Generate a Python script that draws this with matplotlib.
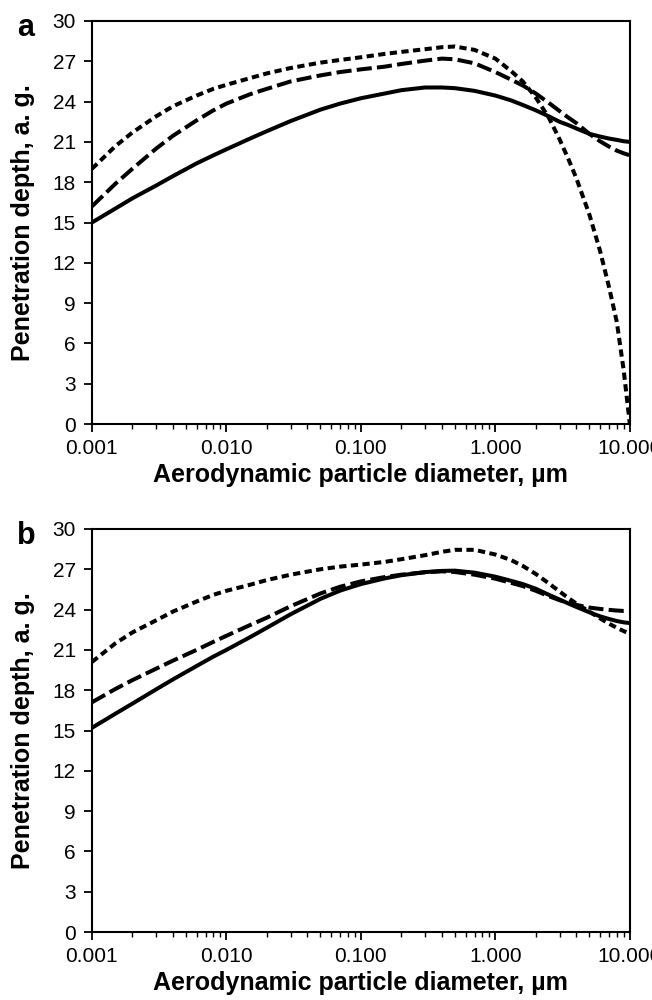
import matplotlib
matplotlib.use("Agg")
import matplotlib.pyplot as plt
from matplotlib.ticker import FixedLocator, FormatStrFormatter, LogLocator, NullFormatter

plt.rcParams["font.family"] = ["Liberation Sans", "DejaVu Sans"]

diam = [0.001, 0.0015, 0.002, 0.003, 0.004, 0.006, 0.008, 0.01, 0.015, 0.02,
        0.03, 0.05, 0.07, 0.1, 0.15, 0.2, 0.3, 0.4, 0.5, 0.7,
        1.0, 1.3, 1.6, 2.0, 2.5, 3.0, 3.5, 4.0, 5.0, 6.0,
        7.0, 8.0, 9.0, 10.0]

# Panel a: penetration depth (airway generation)
a_solid = [15.0, 16.05, 16.8, 17.75, 18.45, 19.4, 20.0, 20.45, 21.25, 21.8,
           22.55, 23.4, 23.85, 24.25, 24.6, 24.85, 25.05, 25.05, 25.0, 24.8,
           24.45, 24.1, 23.75, 23.35, 22.9, 22.5, 22.25, 22.0, 21.6, 21.4,
           21.25, 21.15, 21.05, 21.0]
a_long = [16.2, 17.9, 19.0, 20.5, 21.45, 22.6, 23.35, 23.85, 24.55, 24.95,
          25.5, 25.95, 26.2, 26.4, 26.6, 26.8, 27.05, 27.2, 27.15, 26.85,
          26.2, 25.65, 25.2, 24.6, 23.9, 23.3, 22.8, 22.4, 21.6, 21.05,
          20.65, 20.35, 20.15, 20.0]
a_short = [19.0, 20.7, 21.7, 22.9, 23.65, 24.45, 24.95, 25.25, 25.75, 26.1,
           26.5, 26.9, 27.1, 27.3, 27.55, 27.7, 27.9, 28.05, 28.1, 27.85,
           27.2, 26.3, 25.5, 24.3, 22.8, 21.2, 19.7, 18.3, 15.6, 12.9,
           10.2, 7.6, 4.0, 0.0]

# Panel b
b_solid = [15.2, 16.26, 17.0, 18.06, 18.8, 19.8, 20.5, 21.0, 21.95, 22.65,
           23.65, 24.8, 25.41, 25.9, 26.32, 26.56, 26.79, 26.88, 26.9, 26.75,
           26.45, 26.15, 25.9, 25.55, 25.1, 24.75, 24.45, 24.2, 23.8, 23.5,
           23.3, 23.15, 23.05, 23.0]
b_long = [17.1, 18.1, 18.75, 19.6, 20.2, 21.0, 21.6, 22.05, 22.85, 23.4,
          24.25, 25.2, 25.7, 26.1, 26.42, 26.6, 26.78, 26.85, 26.8, 26.6,
          26.3, 26.0, 25.75, 25.4, 25.0, 24.7, 24.5, 24.35, 24.15, 24.05,
          23.98, 23.93, 23.9, 23.9]
b_short = [20.1, 21.5, 22.3, 23.2, 23.85, 24.6, 25.1, 25.4, 25.85, 26.2,
           26.6, 27.0, 27.2, 27.35, 27.55, 27.75, 28.05, 28.3, 28.45, 28.45,
           28.1, 27.7, 27.25, 26.65, 25.95, 25.35, 24.85, 24.45, 23.85, 23.35,
           22.95, 22.65, 22.4, 22.2]

panels = [
    ("a", a_solid, a_long, a_short),
    ("b", b_solid, b_long, b_short),
]

x_major = [0.001, 0.01, 0.1, 1.0, 10.0]
y_major = list(range(0, 31, 3))

fig = plt.figure(figsize=(6.52, 10), dpi=100)

# axes rectangles in figure fractions [left, bottom, width, height]
rects = [[0.141, 0.576, 0.825, 0.403], [0.141, 0.068, 0.825, 0.403]]

for (letter, solid, long_d, short_d), rect in zip(panels, rects):
    ax = fig.add_axes(rect)
    ax.plot(diam, solid, color="black", lw=2.9, solid_joinstyle="round")
    ax.plot(diam, long_d, color="black", lw=2.9, dashes=(3.75, 1.3))
    ax.plot(diam, short_d, color="black", lw=2.9, dashes=(1.8, 1.1))

    ax.set_xscale("log")
    ax.set_xlim(0.001, 10)
    ax.set_ylim(0, 30)
    ax.xaxis.set_major_locator(FixedLocator(x_major))
    ax.xaxis.set_major_formatter(FormatStrFormatter("%.3f"))
    ax.xaxis.set_minor_locator(LogLocator(base=10, subs=range(2, 10)))
    ax.xaxis.set_minor_formatter(NullFormatter())
    ax.yaxis.set_major_locator(FixedLocator(y_major))

    ax.tick_params(axis="both", which="major", direction="out", length=5.5,
                   width=1.3, labelsize=15, color="black")
    ax.tick_params(axis="x", which="minor", direction="out", length=3.5,
                   width=1.0)
    ax.tick_params(axis="x", which="major", pad=5)
    ax.tick_params(axis="y", which="major", pad=6)
    for sp in ax.spines.values():
        sp.set_linewidth(1.5)

    ax.set_xlabel("Aerodynamic particle diameter, µm", fontsize=18,
                  fontweight="bold", labelpad=4)
    ax.set_ylabel("Penetration depth, a. g.", fontsize=18,
                  fontweight="bold")
    ax.yaxis.set_label_coords(-0.106, 0.5)
    ax.text(-0.14, 0.983, letter, transform=ax.transAxes, fontsize=22,
            fontweight="bold", ha="left", va="center")

fig.savefig("out.png", dpi=100)
